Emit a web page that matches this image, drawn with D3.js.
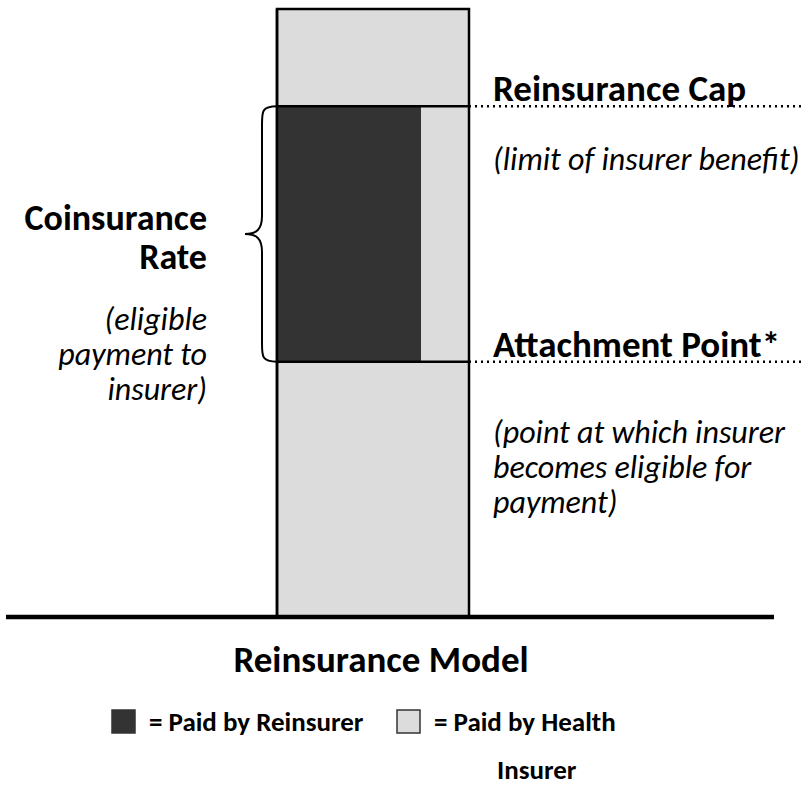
<!DOCTYPE html>
<html>
<head>
<meta charset="utf-8">
<script src="https://cdn.jsdelivr.net/npm/d3@7"></script>
<style>
  body { margin: 0; background: #fff; }
  svg text { font-family: Carlito, Calibri, Lato, "Open Sans", sans-serif; fill: #000; }
</style>
</head>
<body>
<div id="chart"></div>
<script>
// Threshold levels on a 0-100 claim-cost scale (bar spans the whole range)
const barMax = 100;
const levelNames  = ["Attachment Point*", "Reinsurance Cap"];
const levelValues = [42, 84];
const levelNotes  = [
  ["(point at which insurer", "becomes eligible for", "payment)"],
  ["(limit of insurer benefit)"]
];
// Share of the corridor paid by the reinsurer
const coinsuranceRate = 0.75;
const braceTitle = ["Coinsurance", "Rate"];
const braceNote  = ["(eligible", "payment to", "insurer)"];
const chartTitle = "Reinsurance Model";
const legendLabels = [["= Paid by Reinsurer"], ["= Paid by Health", "Insurer"]];
const legendColors = ["#333333", "#dcdcdc"];

const width = 804, height = 796;

const svg = d3.select("#chart")
  .append("svg")
  .attr("width", width)
  .attr("height", height);

const y = d3.scaleLinear().domain([0, barMax]).range([617, 9]);
const x = d3.scaleLinear().domain([0, 1]).range([277, 469]);

// full claim bar
svg.append("rect")
  .attr("x", x(0)).attr("y", y(barMax))
  .attr("width", x(1) - x(0)).attr("height", y(0) - y(barMax))
  .attr("fill", legendColors[1])
  .attr("stroke", "#000").attr("stroke-width", 2.5);

// reinsurer share inside the corridor
const lo = levelValues[0], hi = levelValues[1];
svg.append("rect")
  .attr("x", x(0)).attr("y", y(hi))
  .attr("width", x(coinsuranceRate) - x(0)).attr("height", y(lo) - y(hi))
  .attr("fill", legendColors[0]);

// redraw left edge of bar over the dark fill
svg.append("line")
  .attr("x1", x(0)).attr("x2", x(0)).attr("y1", y(barMax)).attr("y2", y(0))
  .attr("stroke", "#000").attr("stroke-width", 2.5);

// level lines: solid across the bar, dotted to the right
const lv = svg.append("g").selectAll("g")
  .data(levelValues.map((v, i) => ({ v, name: levelNames[i], note: levelNotes[i] })))
  .join("g");

lv.append("line")
  .attr("x1", x(0)).attr("x2", x(1))
  .attr("y1", d => y(d.v)).attr("y2", d => y(d.v))
  .attr("stroke", "#000").attr("stroke-width", 2.5);

lv.append("line")
  .attr("x1", x(1)).attr("x2", width)
  .attr("y1", d => y(d.v)).attr("y2", d => y(d.v))
  .attr("stroke", "#000").attr("stroke-width", 2.5)
  .attr("stroke-dasharray", "2,4");

lv.append("text")
  .attr("x", 493).attr("y", d => y(d.v) - 5)
  .attr("font-size", "37px").attr("font-weight", "bold")
  .text(d => d.name);

lv.each(function (d) {
  d3.select(this).selectAll("text.note")
    .data(d.note)
    .join("text")
    .attr("class", "note")
    .attr("x", 493)
    .attr("y", (t, j) => y(d.v) + (d.note.length > 1 ? 81 : 64) + j * 35)
    .attr("font-size", "32px").attr("font-style", "italic")
    .text(t => t);
});

// baseline
svg.append("line")
  .attr("x1", 6).attr("x2", 774).attr("y1", y(0)).attr("y2", y(0))
  .attr("stroke", "#000").attr("stroke-width", 4.5);

// curly brace spanning the corridor
const bt = y(hi), bb = y(lo), bm = (bt + bb) / 2;
const bx = x(0), vx = bx - 15, tip = bx - 32;
svg.append("path")
  .attr("d", `M${bx},${bt} C${vx},${bt} ${vx},${bt + 5} ${vx},${bt + 18}
    L${vx},${bm - 18} C${vx},${bm - 4} ${vx - 6},${bm} ${tip},${bm}
    C${vx - 6},${bm} ${vx},${bm + 4} ${vx},${bm + 18}
    L${vx},${bb - 18} C${vx},${bb - 5} ${vx},${bb} ${bx},${bb}`)
  .attr("fill", "none").attr("stroke", "#000").attr("stroke-width", 2);

svg.append("g").selectAll("text")
  .data(braceTitle)
  .join("text")
  .attr("x", 207).attr("y", (d, i) => 230 + i * 39)
  .attr("text-anchor", "end")
  .attr("font-size", "36px").attr("font-weight", "bold")
  .text(d => d);

svg.append("g").selectAll("text")
  .data(braceNote)
  .join("text")
  .attr("x", 207).attr("y", (d, i) => 330 + i * 35)
  .attr("text-anchor", "end")
  .attr("font-size", "32px").attr("font-style", "italic")
  .text(d => d);

svg.append("text")
  .attr("x", 381).attr("y", 672)
  .attr("text-anchor", "middle")
  .attr("font-size", "37px").attr("font-weight", "bold")
  .text(chartTitle);

// legend
const legX = [112, 397];
const lg = svg.append("g").selectAll("g")
  .data(legendColors.map((c, i) => ({ c, labels: legendLabels[i], x: legX[i] })))
  .join("g");

lg.append("rect")
  .attr("x", d => d.x).attr("y", 710)
  .attr("width", 23).attr("height", 23)
  .attr("fill", d => d.c)
  .attr("stroke", "#333").attr("stroke-width", 1.5);

lg.each(function (d) {
  d3.select(this).selectAll("text")
    .data(d.labels)
    .join("text")
    .attr("x", (t, j) => j === 0 ? d.x + 37 : d.x + 100)
    .attr("y", (t, j) => 731 + j * 48)
    .attr("font-size", "27px").attr("font-weight", "bold")
    .text(t => t);
});
</script>
</body>
</html>
